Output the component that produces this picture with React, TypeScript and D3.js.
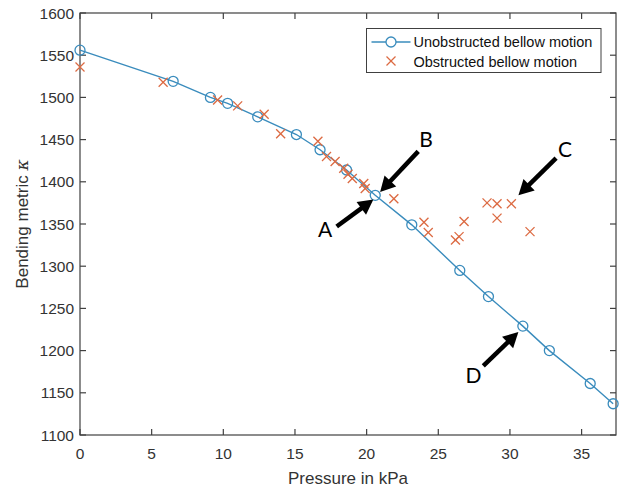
import React from "react";
import * as d3 from "d3";

const unobstructedX = [0, 6.5, 9.1, 10.3, 12.4, 15.1, 16.75, 18.6, 20.6, 23.15, 26.5, 28.5, 30.9, 32.75, 35.6, 37.2];
const unobstructedY = [1556, 1519, 1500, 1493, 1477, 1456, 1438, 1414, 1384, 1349, 1295, 1264, 1229, 1200, 1161, 1137];

const obstructedX = [0, 5.8, 9.6, 11.0, 12.85, 14.0, 16.6, 17.2, 17.8, 18.4, 18.7, 19.0, 19.8, 19.9, 21.9, 24.0, 24.3, 26.2, 26.45, 26.8, 28.4, 29.1, 30.1, 29.1, 31.4];
const obstructedY = [1536, 1518, 1497, 1490, 1480, 1457, 1448, 1430, 1424, 1416, 1409, 1404, 1398, 1392, 1380, 1352, 1340, 1331, 1335, 1353, 1375, 1374, 1374, 1357, 1341];

const xTicks = [0, 5, 10, 15, 20, 25, 30, 35];
const yTicks = [1100, 1150, 1200, 1250, 1300, 1350, 1400, 1450, 1500, 1550, 1600];

const annLabels = ["A", "B", "C", "D"];
const annTipX = [20.47, 20.94, 30.59, 30.59];
const annTipY = [1379, 1388, 1384, 1222];
const annTailX = [17.91, 23.6, 33.22, 28.14];
const annTailY = [1347, 1436, 1428, 1182];
const annTextX = [17.1, 24.15, 33.85, 27.45];
const annTextY = [1343, 1450, 1438, 1170];

const legendLabels = ["Unobstructed bellow motion", "Obstructed bellow motion"];

const W = 622;
const H = 492;
const M = { left: 80, top: 13, right: 616, bottom: 435 };

const lineColor = "#3a8cbd";
const crossColor = "#dc6a42";
const axisColor = "#404040";
const textColor = "#333333";
const font = "Arial, 'Liberation Sans', Helvetica, sans-serif";

export default function App() {
  const x = d3.scaleLinear().domain([0, 37.4]).range([M.left, M.right]);
  const y = d3.scaleLinear().domain([1100, 1600]).range([M.bottom, M.top]);

  const pts = unobstructedX.map((v, i) => [v, unobstructedY[i]] as [number, number]);
  const line = d3
    .line<[number, number]>()
    .x((d) => x(d[0]))
    .y((d) => y(d[1]));

  const obs = obstructedX.map((v, i) => [v, obstructedY[i]] as [number, number]);
  const cs = 4.5;
  const tick = 6;

  const arrowHead = (tx: number, ty: number, sx: number, sy: number) => {
    const ang = Math.atan2(ty - sy, tx - sx);
    const len = 15;
    const half = 8;
    const bx = tx - len * Math.cos(ang);
    const by = ty - len * Math.sin(ang);
    const px = -Math.sin(ang);
    const py = Math.cos(ang);
    return `M${tx},${ty} L${bx + half * px},${by + half * py} L${bx - half * px},${by - half * py} Z`;
  };

  const lgX = 366.5;
  const lgY = 28.5;
  const lgW = 234.5;
  const lgH = 44;

  return (
    <svg
      width={W}
      height={H}
      style={{ position: "absolute", left: 0, top: 0, background: "#fff" }}
      fontFamily={font}
    >
      <rect x={0} y={0} width={W} height={H} fill="#fff" />
      {/* axes box */}
      <rect
        x={M.left}
        y={M.top}
        width={M.right - M.left}
        height={M.bottom - M.top}
        fill="none"
        stroke={axisColor}
        strokeWidth={1.2}
      />
      {xTicks.map((t) => (
        <g key={"xt" + t}>
          <line x1={x(t)} x2={x(t)} y1={M.bottom} y2={M.bottom - tick} stroke={axisColor} strokeWidth={1.2} />
          <line x1={x(t)} x2={x(t)} y1={M.top} y2={M.top + tick} stroke={axisColor} strokeWidth={1.2} />
          <text x={x(t)} y={M.bottom + 24} textAnchor="middle" fontSize={15.5} fill={textColor}>
            {t}
          </text>
        </g>
      ))}
      {yTicks.map((t) => (
        <g key={"yt" + t}>
          <line x1={M.left} x2={M.left + tick} y1={y(t)} y2={y(t)} stroke={axisColor} strokeWidth={1.2} />
          <line x1={M.right} x2={M.right - tick} y1={y(t)} y2={y(t)} stroke={axisColor} strokeWidth={1.2} />
          <text x={M.left - 6} y={y(t)} dy="0.36em" textAnchor="end" fontSize={15.5} fill={textColor}>
            {t}
          </text>
        </g>
      ))}
      <text x={(M.left + M.right) / 2} y={484} textAnchor="middle" fontSize={17} fill={textColor}>
        Pressure in kPa
      </text>
      <text
        transform={`translate(28, ${(M.top + M.bottom) / 2}) rotate(-90)`}
        textAnchor="middle"
        fontSize={17}
        fill={textColor}
      >
        Bending metric <tspan fontStyle="italic" fontFamily="'DejaVu Serif', serif">κ</tspan>
      </text>

      {/* unobstructed line */}
      <path d={line(pts) || ""} fill="none" stroke={lineColor} strokeWidth={1.4} />
      {pts.map((p, i) => (
        <circle key={"c" + i} cx={x(p[0])} cy={y(p[1])} r={5} fill="none" stroke={lineColor} strokeWidth={1.3} />
      ))}
      {obs.map((p, i) => (
        <g key={"o" + i} stroke={crossColor} strokeWidth={1.3}>
          <line x1={x(p[0]) - cs} y1={y(p[1]) - cs} x2={x(p[0]) + cs} y2={y(p[1]) + cs} />
          <line x1={x(p[0]) - cs} y1={y(p[1]) + cs} x2={x(p[0]) + cs} y2={y(p[1]) - cs} />
        </g>
      ))}

      {/* annotations */}
      {annLabels.map((lab, i) => {
        const tx = x(annTipX[i]);
        const ty = y(annTipY[i]);
        const sx = x(annTailX[i]);
        const sy = y(annTailY[i]);
        const ang = Math.atan2(ty - sy, tx - sx);
        const ex = tx - 12 * Math.cos(ang);
        const ey = ty - 12 * Math.sin(ang);
        return (
          <g key={"a" + lab}>
            <line x1={sx} y1={sy} x2={ex} y2={ey} stroke="#000" strokeWidth={4.5} />
            <path d={arrowHead(tx, ty, sx, sy)} fill="#000" />
            <text
              x={x(annTextX[i])}
              y={y(annTextY[i])}
              dy="0.36em"
              textAnchor="middle"
              fontSize={21}
              fontFamily="Lato, 'Open Sans', sans-serif"
              fill="#000"
            >
              {lab}
            </text>
          </g>
        );
      })}

      {/* legend */}
      <rect x={lgX} y={lgY} width={lgW} height={lgH} fill="#fff" stroke={axisColor} strokeWidth={1} />
      <line x1={lgX + 5} x2={lgX + 44} y1={lgY + 13.5} y2={lgY + 13.5} stroke={lineColor} strokeWidth={1.4} />
      <circle cx={lgX + 24.5} cy={lgY + 13.5} r={5} fill="#fff" stroke={lineColor} strokeWidth={1.3} />
      <g stroke={crossColor} strokeWidth={1.3}>
        <line x1={lgX + 24.5 - cs} y1={lgY + 32.5 - cs} x2={lgX + 24.5 + cs} y2={lgY + 32.5 + cs} />
        <line x1={lgX + 24.5 - cs} y1={lgY + 32.5 + cs} x2={lgX + 24.5 + cs} y2={lgY + 32.5 - cs} />
      </g>
      {legendLabels.map((l, i) => (
        <text key={l} x={lgX + 47} y={lgY + 13.5 + i * 19.5} dy="0.36em" fontSize={14.5} fill="#111">
          {l}
        </text>
      ))}
    </svg>
  );
}
